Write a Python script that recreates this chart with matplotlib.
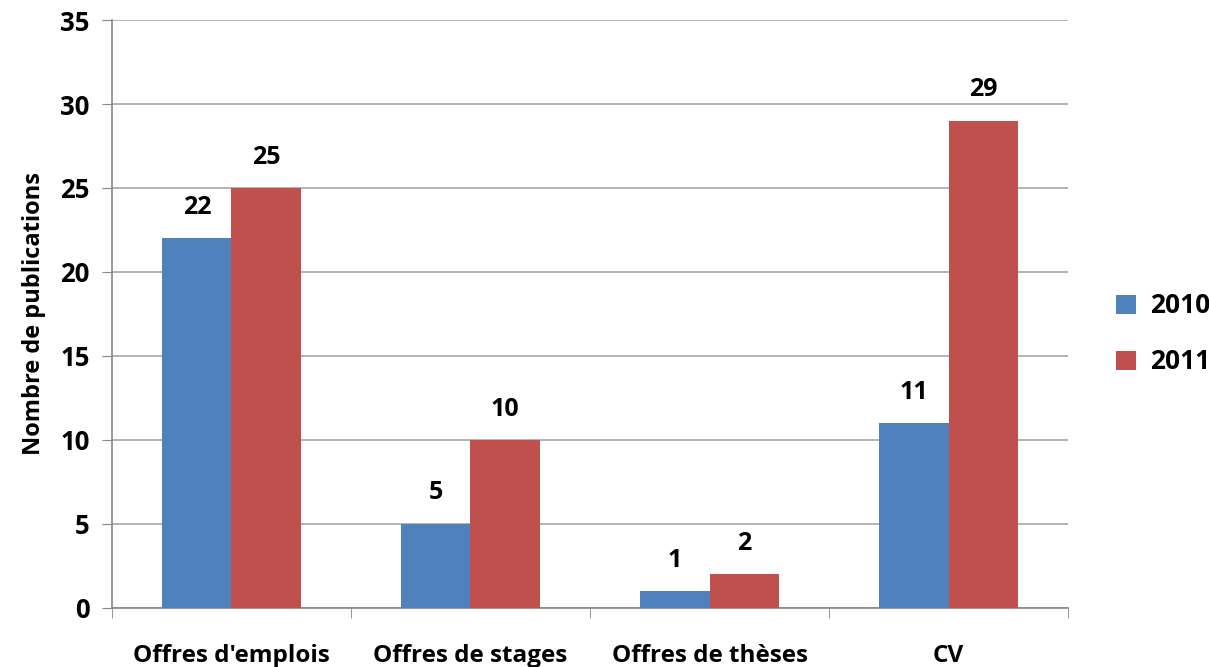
import matplotlib
matplotlib.use("Agg")
import matplotlib.pyplot as plt
import numpy as np

plt.rcParams['font.family'] = ['Open Sans', 'DejaVu Sans']
plt.rcParams['font.weight'] = 'bold'

categories = ["Offres d'emplois", "Offres de stages", "Offres de thèses", "CV"]
years = ["2010", "2011"]
vals_2010 = [22, 5, 1, 11]
vals_2011 = [25, 10, 2, 29]
colors = ["#4F81BD", "#C0504D"]

fig = plt.figure(figsize=(12.09, 6.67), dpi=100)
ax = fig.add_axes([0.0926, 0.0885, 0.7908, 0.8815])

x = np.arange(len(categories))
w = 0.29
b1 = ax.bar(x - w / 2, vals_2010, w, color=colors[0], label=years[0], zorder=3)
b2 = ax.bar(x + w / 2, vals_2011, w, color=colors[1], label=years[1], zorder=3)

for bars in (b1, b2):
    for r in bars:
        ax.text(r.get_x() + r.get_width() / 2, r.get_height() + 1.1, f"{int(r.get_height())}",
                ha='center', va='bottom', fontsize=18, fontweight='bold')

ax.set_xlim(-0.5, len(categories) - 0.5)
ax.set_ylim(0, 35)
ax.set_yticks(range(0, 36, 5))
ax.yaxis.grid(True, color='#A6A6A6', linewidth=1.2, zorder=0)
ax.set_axisbelow(True)

ax.set_xticks(x)
ax.set_xticklabels(categories, fontsize=17.5, fontweight='bold')
ax.set_xticks(np.arange(-0.5, len(categories)), minor=True)
ax.tick_params(axis='x', which='major', length=0, pad=26)
ax.tick_params(axis='x', which='minor', length=7, color='#868686')
ax.tick_params(axis='y', length=7, color='#868686', labelsize=18.5, pad=9)
for lab in ax.get_yticklabels():
    lab.set_fontweight('bold')

for s in ['top', 'right']:
    ax.spines[s].set_visible(False)
for s in ['left', 'bottom']:
    ax.spines[s].set_color('#868686')
    ax.spines[s].set_linewidth(1.2)

ax.set_ylabel("Nombre de publications", fontsize=17, fontweight='bold', labelpad=10)

ax.legend(loc='center left', bbox_to_anchor=(1.05, 0.466), frameon=False, borderaxespad=0,
          borderpad=0, handlelength=0.75, handleheight=0.75, handletextpad=0.55,
          labelspacing=1.1, prop={'weight': 'bold', 'size': 19})

fig.savefig("out.png", dpi=100)
